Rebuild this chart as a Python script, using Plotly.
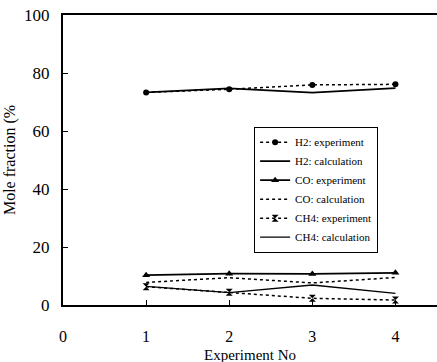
import plotly.graph_objects as go

experiments = [1, 2, 3, 4]
h2_exp = [73.3, 74.4, 75.9, 76.1]
h2_calc = [73.3, 74.7, 73.2, 74.8]
co_exp = [10.3, 10.8, 10.7, 11.1]
co_calc = [7.8, 9.4, 7.6, 9.5]
ch4_exp = [6.3, 4.4, 2.3, 1.7]
ch4_calc = [6.4, 4.3, 6.9, 4.0]

series = [
    ("H2: experiment", h2_exp, "dot", 1.5, "circle", 6),
    ("H2: calculation", h2_calc, "solid", 1.8, None, 0),
    ("CO: experiment", co_exp, "solid", 1.8, "triangle-up", 7),
    ("CO: calculation", co_calc, "dot", 1.5, None, 0),
    ("CH4: experiment", ch4_exp, "dot", 1.5, "hourglass", 7),
    ("CH4: calculation", ch4_calc, "solid", 1.3, None, 0),
]

fig = go.Figure()
for name, vals, dash, w, sym, size in series:
    fig.add_trace(go.Scatter(
        x=experiments, y=vals, name=name,
        mode="lines+markers" if sym else "lines",
        line=dict(color="black", dash=dash, width=w),
        marker=dict(symbol=sym or "circle", size=size, color="black"),
    ))

font = "Liberation Serif, Times New Roman, serif"
fig.update_layout(
    width=437, height=362,
    margin=dict(l=63, r=0, t=15, b=57),
    paper_bgcolor="white", plot_bgcolor="white",
    font=dict(family=font, color="black"),
    showlegend=True,
    legend=dict(
        x=0.511, y=0.615, xanchor="left", yanchor="top",
        bgcolor="white", bordercolor="black", borderwidth=1,
        font=dict(size=11, family=font), tracegroupgap=0,
        itemwidth=30,
    ),
    xaxis=dict(
        range=[0, 4.5], tickvals=[0, 1, 2, 3, 4],
        ticks="inside", ticklen=5, tickcolor="black",
        showline=True, linecolor="black", linewidth=2, mirror=True,
        showgrid=False, zeroline=False,
        tickfont=dict(size=16, family=font),
        ticklabelstandoff=16,
    ),
    yaxis=dict(
        range=[0, 100], tickvals=[0, 20, 40, 60, 80, 100],
        ticks="inside", ticklen=5, tickcolor="black",
        showline=True, linecolor="black", linewidth=2,
        showgrid=False, zeroline=False,
        tickfont=dict(size=17, family=font),
        ticklabelstandoff=8,
        title=dict(text="Mole fraction (%", font=dict(size=16, family=font), standoff=4),
    ),
    annotations=[dict(
        text="Experiment No", xref="paper", yref="paper",
        x=0.5, y=-0.1724, xanchor="center", yanchor="middle",
        showarrow=False, font=dict(size=15, family=font),
    )],
)

fig.write_html("out.html")
